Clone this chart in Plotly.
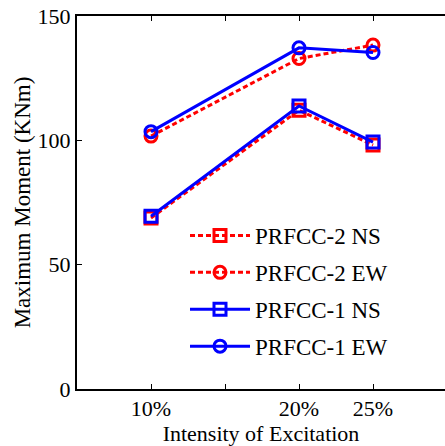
import plotly.graph_objects as go

intensity = [10, 20, 25]
tick_vals = [10, 15, 20, 25]
tick_text = ["10%", "", "20%", "25%"]

prfcc2_ns = [68.8, 112.1, 98.1]
prfcc2_ew = [101.7, 132.9, 138.3]
prfcc1_ns = [69.5, 113.8, 99.3]
prfcc1_ew = [103.5, 137.2, 135.3]

series = [
    ("PRFCC-2 NS", prfcc2_ns, "red", "5px,3px", "square-open"),
    ("PRFCC-2 EW", prfcc2_ew, "red", "5px,3px", "circle-open"),
    ("PRFCC-1 NS", prfcc1_ns, "blue", "solid", "square-open"),
    ("PRFCC-1 EW", prfcc1_ew, "blue", "solid", "circle-open"),
]

FONT = "Liberation Serif, Times New Roman, serif"

fig = go.Figure()
for i, (name, vals, color, dash, sym) in enumerate(series):
    fig.add_trace(go.Scatter(
        x=intensity, y=vals, name=name, mode="lines+markers",
        legendgroup=f"g{i}",
        line=dict(color=color, width=3, dash=dash),
        marker=dict(symbol=sym, size=12, color=color, line=dict(color=color, width=3)),
    ))

fig.update_layout(
    width=445, height=446,
    margin=dict(l=77, r=0, t=16, b=57),
    paper_bgcolor="white", plot_bgcolor="white",
    font=dict(family=FONT, size=23, color="black"),
    showlegend=True,
    legend=dict(
        x=(185 - 77) / 368, y=(389 - 214) / 373, xanchor="left", yanchor="top",
        bgcolor="rgba(0,0,0,0)", borderwidth=0,
        font=dict(family=FONT, size=23, color="black"),
        itemwidth=60, traceorder="grouped", tracegroupgap=4,
    ),
    xaxis=dict(
        range=[5, 5 + 368 / 14.8],
        tickvals=tick_vals, ticktext=tick_text,
        ticks="inside", ticklen=5, tickwidth=1, tickcolor="black",
        showline=True, linecolor="black", linewidth=2, mirror="ticks",
        showgrid=False, zeroline=False,
        title=dict(text="Intensity of Excitation", standoff=0, font=dict(size=22)),
        tickfont=dict(size=22),
        ticklabelstandoff=-1,
    ),
    yaxis=dict(
        range=[0, 150], tickvals=[0, 50, 100, 150],
        ticks="inside", ticklen=5, tickwidth=1, tickcolor="black",
        showline=True, linecolor="black", linewidth=2,
        showgrid=False, zeroline=False,
        title=dict(text="Maximum Moment (KNm)", standoff=1, font=dict(size=23)),
        tickfont=dict(size=22),
    ),
    yaxis2=dict(
        overlaying="y", side="right", range=[0, 150], tickvals=[0, 50, 100, 150],
        ticks="inside", ticklen=5, tickwidth=1, tickcolor="black",
        showticklabels=False, showline=False, showgrid=False, zeroline=False,
    ),
)

fig.write_html("out.html")
